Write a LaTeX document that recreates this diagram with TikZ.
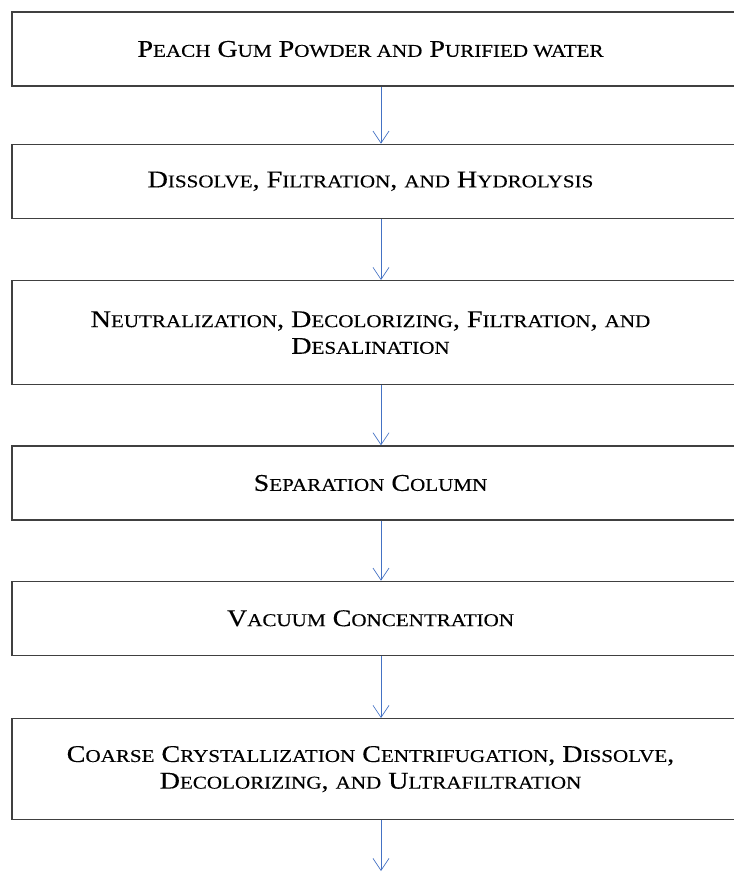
\documentclass[tikz,border=0pt]{standalone}
\usepackage{fontspec}
\setmainfont{Liberation Serif}[FakeStretch=1.17,FakeBold=0.3]
\usetikzlibrary{positioning,arrows.meta}
\definecolor{boxgray}{RGB}{64,64,64}
\definecolor{arrowblue}{RGB}{68,114,196}
\newcommand\sm[1]{{\fontsize{13.5}{16}\selectfont #1}}
\tikzset{stepbox/.style={rectangle,draw=boxgray,line width=1pt,minimum width=553.5pt,minimum height=55.5pt,inner sep=0pt},
  steptext/.style={font=\fontsize{18}{20}\selectfont,align=center,text=black,xshift=-7.875pt},
  flow/.style={-{Straight Barb[length=9pt,width=12pt]},arrowblue,line width=0.5pt} }

\begin{document}
\begin{tikzpicture}[x=0.75pt,y=-0.75pt]
\useasboundingbox (0,0) rectangle (734,873);
\clip (0,0) rectangle (734,873);

  \node[stepbox, label={[steptext]center:P\sm{EACH} G\sm{UM} P\sm{OWDER AND} P\sm{URIFIED WATER}}] (s1) at (381,49) {};
  \node[stepbox, label={[steptext]center:D\sm{ISSOLVE}, F\sm{ILTRATION}, \sm{AND} H\sm{YDROLYSIS}}] (s2) [below=42.75pt of s1] {};
  \node[stepbox, minimum height=78pt, label={[steptext]center:{N\sm{EUTRALIZATION}, D\sm{ECOLORIZING}, F\sm{ILTRATION}, \sm{AND}\\D\sm{ESALINATION}}}] (s3) [below=45.75pt of s2] {};
  \node[stepbox, label={[steptext]center:S\sm{EPARATION} C\sm{OLUMN}}] (s4) [below=45pt of s3] {};
  \node[stepbox, label={[steptext]center:V\sm{ACUUM} C\sm{ONCENTRATION}}] (s5) [below=45pt of s4] {};
  \node[stepbox, minimum height=75.75pt, label={[steptext]center:{C\sm{OARSE} C\sm{RYSTALLIZATION} C\sm{ENTRIFUGATION}, D\sm{ISSOLVE},\\D\sm{ECOLORIZING}, \sm{AND} U\sm{LTRAFILTRATION}}}] (s6) [below=46.5pt of s5] {};
  \coordinate (out) at (381,871);

  \foreach \a/\b in {s1/s2,s2/s3,s3/s4,s4/s5,s5/s6}
    \draw[flow] (\a) -- (\b);
  \draw[flow] (s6) -- (out);
\end{tikzpicture}
\end{document}
